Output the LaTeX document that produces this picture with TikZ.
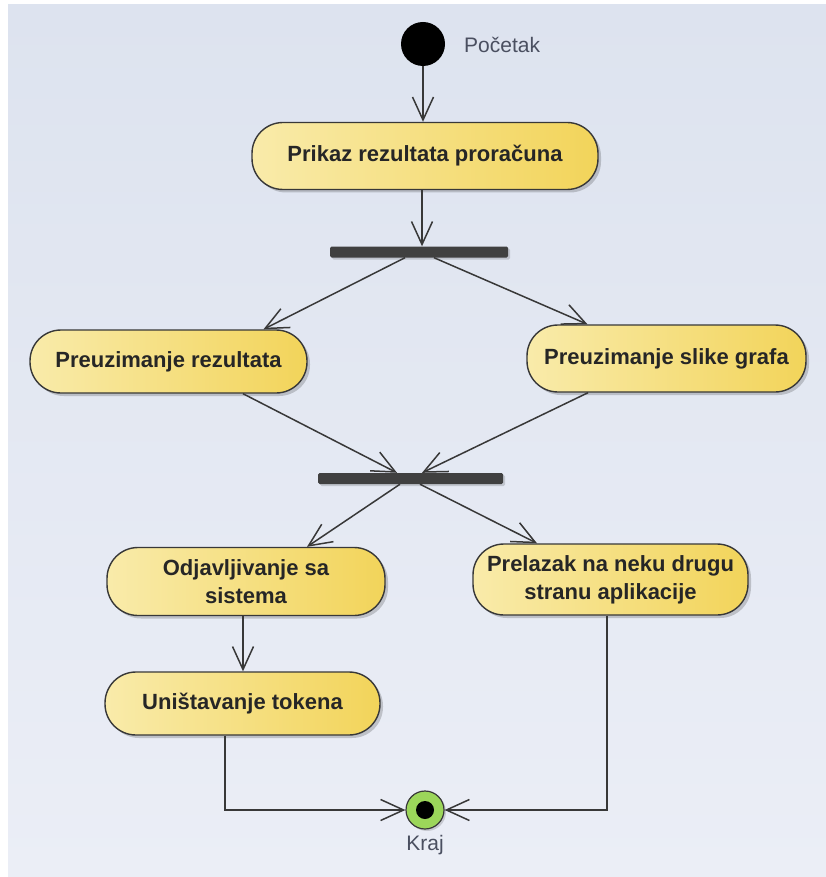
\documentclass[tikz,border=0pt]{standalone}
\usepackage{fontspec}
\setmainfont{Liberation Sans}
\usetikzlibrary{arrows.meta,shadows}
\definecolor{edge}{HTML}{383838}
\definecolor{actL}{HTML}{F9EBAA}
\definecolor{actR}{HTML}{F2D45A}
\definecolor{txt}{HTML}{262626}
\definecolor{barc}{HTML}{404040}
\definecolor{lblc}{HTML}{4A4F60}
\definecolor{bgTop}{HTML}{DDE3EF}
\definecolor{bgBot}{HTML}{EBEEF6}
\definecolor{endc}{HTML}{9CD65A}
\begin{document}
\begin{tikzpicture}[x=1pt,y=-1pt,
  act/.style={draw=edge, line width=1.4pt, rounded corners=31pt,
    left color=actL, right color=actR, text=txt, align=center, inner sep=0pt,
    font=\fontsize{22}{28}\selectfont\bfseries,
    drop shadow={shadow xshift=3pt, shadow yshift=-3pt, opacity=0.18, fill=black}},
  bar/.style={fill=barc, draw=none, rounded corners=1.5pt, inner sep=0pt,
    drop shadow={shadow xshift=2pt, shadow yshift=-2pt, opacity=0.15, fill=black}},
  flow/.style={draw=edge, line width=1.5pt,
    -{Straight Barb[length=23pt,width=21pt,line width=1.5pt]}},
  lbl/.style={text=lblc, font=\fontsize{21}{24}\selectfont, inner sep=0pt}]

% canvas
\fill[white] (0,0) rectangle (826,877);
\shade[top color=bgTop, bottom color=bgBot] (8,5) rectangle (826,877);

% initial and final nodes
\node[circle, fill=black, minimum size=44pt, inner sep=0pt] (start) at (423,44) {};
\node[lbl, anchor=west] (startlbl) at (464,45) {Početak};

\node[circle, draw=edge, line width=1.2pt, fill=endc, minimum size=38pt, inner sep=0pt,
  drop shadow={shadow xshift=2pt, shadow yshift=-2pt, opacity=0.15, fill=black}] (fin) at (425,810) {};
\node[circle, fill=black, minimum size=18pt, inner sep=0pt] (findot) at (fin.center) {};
\node[lbl] (finlbl) at (425,845) {Kraj};

% actions
\node[act, minimum width=346pt, minimum height=67pt] (prikaz) at (425,156) {Prikaz rezultata proračuna};
\node[act, minimum width=277pt, minimum height=63pt] (prez) at (168.5,361.5) {Preuzimanje rezultata};
\node[act, minimum width=279pt, minimum height=67pt] (pslika) at (666.5,358.5) {Preuzimanje slike grafa};
\node[act, minimum width=278pt, minimum height=68pt] (odjava) at (246,581.5) {Odjavljivanje sa\\sistema};
\node[act, minimum width=275pt, minimum height=71pt] (prelaz) at (610.5,579.5) {Prelazak na neku drugu\\stranu aplikacije};
\node[act, minimum width=275pt, minimum height=63pt] (token) at (242.5,703.5) {Uništavanje tokena};

% fork and join bars
\node[bar, minimum width=178pt, minimum height=11pt] (fork) at (419,252) {};
\node[bar, minimum width=185pt, minimum height=11pt] (join) at (410.5,478.5) {};

% control flows
\draw[flow] (start.south) -- (start.south |- prikaz.north);
\draw[flow] ([xshift=-3pt]prikaz.south) -- ([xshift=-3pt]prikaz.south |- fork.north);
\draw[flow] ([xshift=-14pt]fork.south) -- ([xshift=95pt]prez.north);
\draw[flow] ([xshift=15pt]fork.south) -- ([xshift=-79pt]pslika.north);
\draw[flow] ([xshift=74.5pt]prez.south) -- ([xshift=-13.5pt]join.north);
\draw[flow] ([xshift=-78.5pt]pslika.south) -- ([xshift=11.5pt]join.north);
\draw[flow] ([xshift=-10.5pt]join.south) -- ([xshift=61pt]odjava.north);
\draw[flow] ([xshift=9.5pt]join.south) -- ([xshift=-73.5pt]prelaz.north);
\draw[flow] ([xshift=-3pt]odjava.south) -- ([xshift=-3pt]odjava.south |- token.north);
\draw[flow] ([xshift=-17.5pt]token.south) |- (fin.west);
\draw[flow] ([xshift=-3.5pt]prelaz.south) |- (fin.east);

\end{tikzpicture}
\end{document}
